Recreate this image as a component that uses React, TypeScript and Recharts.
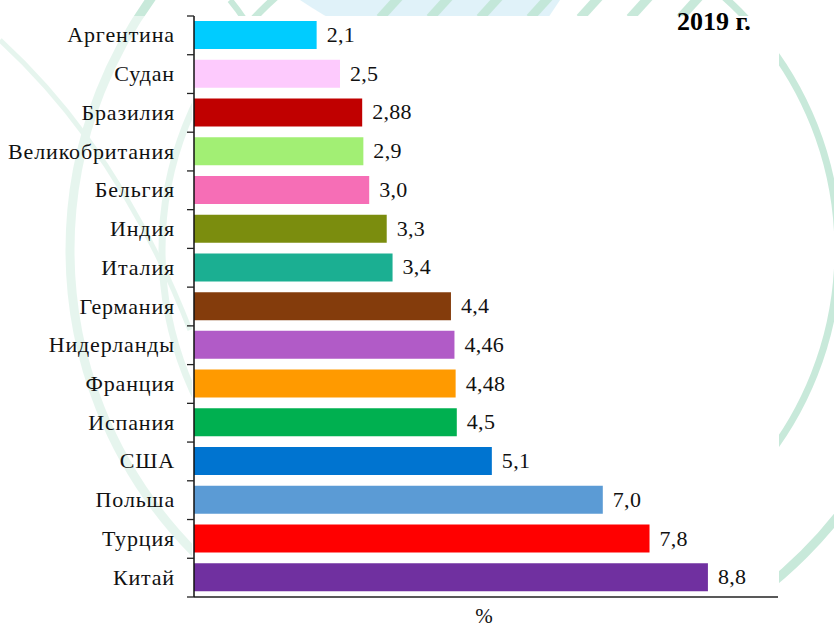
import { Bar, BarChart, Cell, LabelList, XAxis, YAxis } from "recharts";

const countries = [
  "Аргентина",
  "Судан",
  "Бразилия",
  "Великобритания",
  "Бельгия",
  "Индия",
  "Италия",
  "Германия",
  "Нидерланды",
  "Франция",
  "Испания",
  "США",
  "Польша",
  "Турция",
  "Китай",
];

const shares = [2.1, 2.5, 2.88, 2.9, 3.0, 3.3, 3.4, 4.4, 4.46, 4.48, 4.5, 5.1, 7.0, 7.8, 8.8];

const barColors = [
  "#00CCFF",
  "#FDCAFD",
  "#C00000",
  "#A2EF74",
  "#F66EB6",
  "#7B8D0E",
  "#1BAF92",
  "#843C0C",
  "#B15BC7",
  "#FF9A00",
  "#00B050",
  "#0074D0",
  "#5B9BD5",
  "#FF0000",
  "#7030A0",
];

const xTicks = [0, 10];

const data = countries.map((name, i) => ({ name, value: shares[i] }));

const serif = "Liberation Serif";

const fmt = (v: number) =>
  (Math.abs(v * 10 - Math.round(v * 10)) < 1e-9 ? v.toFixed(1) : v.toFixed(2)).replace(".", ",");

const BAND = 581 / countries.length;

// ticks sit between categories, like Excel does it
function renderCountryTick(props: any) {
  const { x, y, payload, index } = props;
  const half = BAND / 2;
  return (
    <g key={`t-${index}`}>
      <line x1={x - 7} x2={x} y1={y - half} y2={y - half} stroke="#222" strokeWidth={1.3} />
      {index === countries.length - 1 && (
        <line x1={x - 7} x2={x} y1={y + half} y2={y + half} stroke="#222" strokeWidth={1.3} />
      )}
      <text
        x={x - 19}
        y={y + 7}
        textAnchor="end"
        fontFamily={serif}
        fontSize={22}
        letterSpacing={0.85}
        fill="#111"
      >
        {payload.value}
      </text>
    </g>
  );
}

function renderValueLabel(props: any) {
  const { x, y, width, height, value } = props;
  return (
    <text
      x={Number(x) + Number(width) + 10}
      y={Number(y) + Number(height) / 2 + 7}
      fontFamily={serif}
      fontSize={22}
      letterSpacing={0.3}
      fill="#111"
    >
      {fmt(Number(value))}
    </text>
  );
}

function renderPercent(props: any) {
  const { viewBox } = props;
  const cx = viewBox.x + viewBox.width / 2;
  return (
    <text x={cx - 2} y={623} textAnchor="middle" fontFamily={serif} fontSize={21} fill="#111">
      %
    </text>
  );
}

// faint stamp watermark from the scanned page
function Watermark() {
  return (
    <svg width={834} height={627} style={{ position: "absolute", left: 0, top: 0 }}>
      <g fill="none" stroke="#bfe6d4" opacity={0.85}>
        <circle cx={500} cy={250} r={338} strokeWidth={7} />
        <circle cx={500} cy={250} r={430} strokeWidth={9} />
        <path d="M 230 0 Q 330 120 270 420" strokeWidth={6} />
        <path d="M 0 40 Q 120 150 190 330" strokeWidth={5} />
      </g>
      <path d="M 300 0 Q 420 80 520 60 L 560 0 Z" fill="#d3ecf6" opacity={0.7} />
      <g stroke="#bfe6d4" strokeWidth={9} opacity={0.85}>
        {[380, 430, 480, 530, 580, 630, 680].map((sx) => (
          <line key={sx} x1={sx} y1={18} x2={sx + 20} y2={-4} />
        ))}
      </g>
      <rect x={192} y={16} width={587} height={611} fill="#fff" />
      <rect x={0} y={16} width={192} height={611} fill="#fff" opacity={0.55} />
    </svg>
  );
}

export default function App() {
  return (
    <div style={{ position: "absolute", left: 0, top: 0, width: 834, height: 627, background: "#fff", fontFamily: serif }}>
      <Watermark />
      <div style={{ position: "absolute", left: 0, top: 0 }}>
        <BarChart
          width={834}
          height={627}
          data={data}
          layout="vertical"
          margin={{ top: 16, right: 56, bottom: 0, left: 0 }}
          barSize={28}
        >
          <XAxis
            type="number"
            domain={[0, 10]}
            ticks={xTicks}
            tick={false}
            tickLine={false}
            axisLine={{ stroke: "#222", strokeWidth: 1.3 }}
            height={30}
            label={renderPercent}
          />
          <YAxis
            type="category"
            dataKey="name"
            width={194}
            tick={renderCountryTick}
            tickLine={false}
            tickSize={0}
            tickMargin={0}
            axisLine={{ stroke: "#111", strokeWidth: 1.5 }}
            interval={0}
          />
          <Bar dataKey="value" isAnimationActive={false}>
            {data.map((d, i) => (
              <Cell key={d.name} fill={barColors[i]} />
            ))}
            <LabelList dataKey="value" content={renderValueLabel} />
          </Bar>
        </BarChart>
      </div>
      <div
        style={{
          position: "absolute",
          left: 677,
          top: 9,
          fontFamily: serif,
          fontWeight: "bold",
          fontSize: 26,
          lineHeight: 1,
          color: "#000",
        }}
      >
        2019 г.
      </div>
    </div>
  );
}
